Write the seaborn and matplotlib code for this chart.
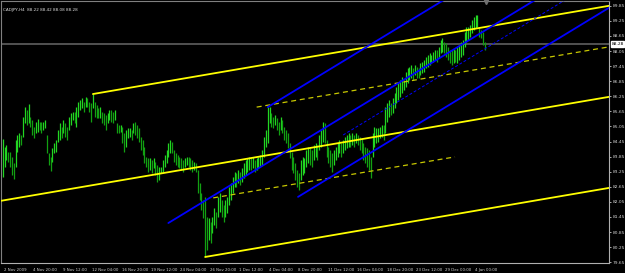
import numpy as np
import pandas as pd
import seaborn as sns
import matplotlib
matplotlib.use("Agg")
import matplotlib.pyplot as plt
from matplotlib.transforms import blended_transform_factory

# ---------------- data ----------------
symbol_title = "CADJPY,H4  88.22 88.42 88.08 88.28"
last_price = 88.28

highs = [84.55, 84.23, 84.31, 84.04, 84.04, 83.84, 83.60, 84.51, 84.71, 84.79,
         84.71, 85.43, 85.82, 85.70, 85.94, 85.43, 85.31, 85.03, 85.23, 85.35,
         85.23, 85.23, 85.23, 85.31, 84.71, 84.00, 83.84, 84.19, 84.39, 84.51,
         84.91, 85.19, 85.03, 85.31, 85.19, 85.03, 85.43, 85.58, 85.62, 85.62,
         85.82, 86.02, 86.10, 86.18, 86.02, 86.22, 86.18, 86.02, 85.98, 86.34,
         86.02, 85.90, 85.78, 85.82, 85.62, 85.58, 85.51, 85.58, 85.70, 85.70,
         85.62, 85.70, 85.19, 85.11, 85.11, 85.03, 84.79, 84.91, 84.99, 84.99,
         84.91, 85.19, 85.23, 85.11, 84.99, 84.63, 84.51, 84.23, 83.84, 83.80,
         83.80, 83.72, 83.80, 83.64, 83.52, 83.44, 83.44, 83.72, 83.92, 84.11,
         84.39, 84.51, 84.43, 84.11, 84.00, 83.92, 83.84, 83.80, 83.72, 83.80,
         83.84, 83.84, 83.80, 83.72, 83.64, 83.60, 83.32, 82.80, 82.41, 82.13,
         82.25, 81.45, 81.41, 81.25, 81.45, 81.81, 81.65, 82.25, 82.41, 82.13,
         81.93, 82.13, 82.25, 82.64, 82.80, 83.04, 83.24, 83.20, 83.32, 83.24,
         83.40, 83.60, 83.72, 83.80, 83.84, 83.80, 83.84, 83.72, 83.80, 83.84,
         83.92, 84.11, 84.63, 84.91, 85.82, 85.82, 85.58, 85.43, 85.51, 85.39,
         85.23, 85.43, 85.31, 85.03, 84.91, 84.79, 84.39, 84.04, 83.84, 83.60,
         83.32, 83.20, 83.72, 83.84, 83.80, 84.11, 84.23, 84.19, 84.11, 84.31,
         84.39, 84.31, 84.71, 84.91, 85.23, 85.19, 84.51, 84.23, 84.11, 84.00,
         84.11, 84.23, 84.39, 84.51, 84.39, 84.51, 84.63, 84.71, 84.79, 84.71,
         84.79, 84.71, 84.79, 84.71, 84.63, 84.59, 84.39, 84.23, 84.19, 84.11,
         83.84, 84.79, 85.03, 84.99, 84.99, 85.03, 85.11, 85.11, 85.82, 85.98,
         86.10, 85.98, 86.18, 86.38, 86.62, 86.78, 86.90, 87.02, 86.90, 87.21,
         87.37, 87.41, 87.49, 87.37, 87.49, 87.41, 87.37, 87.57, 87.61, 87.69,
         87.81, 87.89, 87.97, 87.89, 88.01, 88.09, 88.09, 88.21, 88.49, 88.57,
         88.41, 88.37, 88.21, 88.09, 88.09, 88.17, 88.09, 88.21, 88.29, 88.41,
         88.49, 88.81, 89.00, 89.00, 89.08, 89.28, 89.40, 89.48, 89.48, 89.00,
         88.89, 88.81, 88.42]

lows = [83.04, 83.44, 83.72, 83.64, 83.44, 83.12, 82.96, 83.44, 84.04, 84.23,
        84.31, 84.63, 85.19, 85.11, 85.19, 85.03, 84.71, 84.59, 84.79, 84.83,
        84.91, 84.79, 84.91, 84.99, 84.00, 83.52, 83.28, 83.64, 84.00, 84.04,
        84.43, 84.51, 84.59, 84.79, 84.63, 84.51, 84.91, 85.11, 85.31, 85.19,
        85.03, 85.43, 85.70, 85.78, 85.62, 85.82, 85.82, 85.62, 85.23, 85.78,
        85.43, 85.39, 85.39, 85.39, 85.19, 85.11, 84.91, 85.19, 85.31, 85.23,
        85.19, 85.31, 84.79, 84.79, 84.83, 84.39, 84.04, 84.23, 84.59, 84.63,
        84.51, 84.79, 84.71, 84.59, 84.43, 84.11, 83.92, 83.60, 83.44, 83.24,
        83.32, 83.20, 83.40, 83.12, 82.84, 82.92, 83.20, 83.24, 83.44, 83.60,
        83.84, 84.00, 84.00, 83.64, 83.52, 83.44, 83.40, 83.32, 83.24, 83.44,
        83.52, 83.44, 83.32, 83.24, 83.32, 83.24, 82.41, 82.13, 81.73, 81.41,
        79.86, 80.14, 80.54, 80.42, 80.81, 81.13, 81.01, 81.45, 81.65, 81.45,
        81.25, 81.45, 81.61, 81.93, 82.13, 82.41, 82.64, 82.64, 82.80, 82.72,
        82.84, 83.00, 83.12, 83.24, 83.32, 83.32, 83.40, 83.24, 83.32, 83.40,
        83.44, 83.52, 83.84, 84.23, 84.39, 85.19, 85.03, 84.99, 85.11, 84.91,
        84.71, 84.91, 84.79, 84.51, 84.39, 84.19, 83.80, 83.32, 83.20, 82.92,
        82.64, 82.53, 82.92, 83.12, 83.20, 83.44, 83.60, 83.52, 83.44, 83.72,
        83.84, 83.72, 84.11, 84.23, 84.43, 84.39, 83.84, 83.60, 83.44, 83.24,
        83.52, 83.72, 83.84, 84.00, 83.84, 84.00, 84.11, 84.19, 84.23, 84.23,
        84.31, 84.23, 84.39, 84.31, 84.11, 84.00, 83.72, 83.60, 83.44, 83.32,
        83.00, 83.84, 84.23, 84.39, 84.43, 84.59, 84.63, 84.51, 84.79, 85.23,
        85.43, 85.51, 85.58, 85.78, 85.98, 86.10, 86.22, 86.38, 86.50, 86.62,
        86.78, 86.90, 86.98, 86.90, 87.10, 86.98, 86.98, 87.10, 87.18, 87.21,
        87.37, 87.41, 87.49, 87.57, 87.61, 87.69, 87.61, 87.77, 87.97, 88.01,
        87.97, 87.81, 87.69, 87.57, 87.49, 87.57, 87.61, 87.57, 87.69, 87.81,
        87.89, 88.21, 88.41, 88.49, 88.61, 88.77, 88.89, 88.96, 89.00, 88.61,
        88.57, 88.29, 88.08]

# time axis: one label every 16 H4 bars
tick_bars = [0, 16, 32, 48, 64, 80, 96, 112, 128, 144, 160, 176, 192, 208, 224, 240, 256]
tick_labels = ["2 Nov 2009", "4 Nov 20:00", "9 Nov 12:00", "12 Nov 04:00", "16 Nov 20:00",
               "19 Nov 12:00", "24 Nov 04:00", "26 Nov 20:00", "1 Dec 12:00", "4 Dec 04:00",
               "8 Dec 20:00", "11 Dec 12:00", "16 Dec 04:00", "18 Dec 20:00", "23 Dec 12:00",
               "29 Dec 00:00", "4 Jan 00:00"]
price_ticks = [79.65, 80.25, 80.85, 81.45, 82.05, 82.65, 83.25, 83.85, 84.45, 85.05,
               85.65, 86.25, 86.85, 87.45, 88.05, 88.65, 89.25, 89.85]

# trend lines (anchor bar, anchor price)
yellow_slope = 0.01251          # price per bar
yellow_top_anchor = (49, 86.34)
yellow_bottom_anchor = (110, 79.86)
yellow_dash_upper_anchor = (138, 85.82)
yellow_dash_lower = ([114.4, 245.8], [82.21, 83.84])
blue_slope = 0.0445
blue_anchors = [(144, 85.82), (90, 81.21), (160.5, 82.25)]
blue_dash_anchor = (185, 84.71)

# ---------------- figure ----------------
sns.set_theme(style="dark", rc={"axes.facecolor": "black", "figure.facecolor": "black"})
plt.rcParams["font.family"] = ["DejaVu Sans"]

W, H = 625, 273
fig = plt.figure(figsize=(W / 100, H / 100), dpi=100)
ax = fig.add_axes([1 / W, 10 / H, 608 / W, 262 / H])
ax.set_facecolor("black")

XMIN, XMAX = -0.95, 329.5
YMIN, YMAX = 79.62, 90.04
ax.set_xlim(XMIN, XMAX)
ax.set_ylim(YMIN, YMAX)

idx = np.arange(len(highs))
hi = np.array(highs)
lo = np.array(lows)
mid = (hi + lo) / 2
up = np.r_[True, mid[1:] >= mid[:-1]]

# current price line
ax.axhline(last_price + 0.05, color="#606060", lw=1.2, zorder=1)

# bars
ax.vlines(idx[up], lo[up], hi[up], color="#22d622", lw=0.9, zorder=3)
ax.vlines(idx[~up], lo[~up], hi[~up], color="#12a012", lw=0.9, zorder=3)


def ray(anchor, slope, x_end=XMAX):
    x0, y0 = anchor
    return [x0, x_end], [y0, y0 + slope * (x_end - x0)]


lines = []
# yellow channel
for a in (yellow_top_anchor, yellow_bottom_anchor):
    xs, ys = ray(a, yellow_slope)
    lines.append(("ychan", xs, ys))
mid_x0 = XMIN
mid_y0 = 0.5 * ((yellow_top_anchor[1] + yellow_slope * (mid_x0 - yellow_top_anchor[0])) +
                (yellow_bottom_anchor[1] + yellow_slope * (mid_x0 - yellow_bottom_anchor[0])))
xs, ys = ray((mid_x0, mid_y0), yellow_slope)
lines.append(("ychan", xs, ys))

for name, xs, ys in lines:
    sns.lineplot(x=xs, y=ys, ax=ax, color="#ffff00", lw=1.3, zorder=4, estimator=None, sort=False)

# yellow dashed
xs, ys = ray(yellow_dash_upper_anchor, yellow_slope)
ax.plot(xs, ys, color="#c8c800", lw=0.9, dashes=(4, 3), zorder=4)
ax.plot(yellow_dash_lower[0], yellow_dash_lower[1], color="#c8c800", lw=0.9, dashes=(4, 3), zorder=4)

# blue channel
for a in blue_anchors:
    xs, ys = ray(a, blue_slope)
    sns.lineplot(x=xs, y=ys, ax=ax, color="#0000ff", lw=1.3, zorder=4, estimator=None, sort=False)
xs, ys = ray(blue_dash_anchor, blue_slope)
ax.plot(xs, ys, color="#0000ff", lw=0.7, dashes=(3, 2), zorder=4)

# frame
for s in ("top", "left"):
    ax.spines[s].set_color("#808080")
    ax.spines[s].set_linewidth(0.8)
for s in ("bottom", "right"):
    ax.spines[s].set_color("#b0b0b0")
    ax.spines[s].set_linewidth(0.8)
ax.grid(False)

# y axis on right
ax.yaxis.tick_right()
ax.set_yticks(price_ticks)
ax.set_yticklabels([f"{p:.2f}" for p in price_ticks])
ax.tick_params(axis="y", colors="#c8c8c8", labelsize=3.2, length=1.5, width=0.6, pad=1.5,
               labelcolor="#d0d0d0")

# x axis
ax.set_xticks(tick_bars)
ax.set_xticklabels([])
ax.tick_params(axis="x", colors="#c8c8c8", length=2.5, width=0.6, direction="out")
for b, lab in zip(tick_bars, tick_labels):
    ax.annotate(lab, xy=(b, 0), xycoords=("data", "axes fraction"),
                xytext=(0.8, -5.2), textcoords="offset points",
                ha="left", va="center", fontsize=2.75, color="#d0d0d0")

# title
ax.text(0.004, 0.975, symbol_title, transform=ax.transAxes, ha="left", va="top",
        fontsize=3.0, color="#e0e0e0")

# price label box
tr = blended_transform_factory(ax.transAxes, ax.transData)
ax.text(1.004, last_price + 0.05, f"{last_price:.2f}", transform=tr, ha="left", va="center",
        fontsize=3.2, color="black",
        bbox=dict(boxstyle="square,pad=0.15", fc="white", ec="white"))

# shift marker at top
ax.plot([262.5], [YMAX - 0.02], marker="v", color="#707070", ms=3, zorder=5, clip_on=False)

fig.savefig("out.png", dpi=100, facecolor="black")
